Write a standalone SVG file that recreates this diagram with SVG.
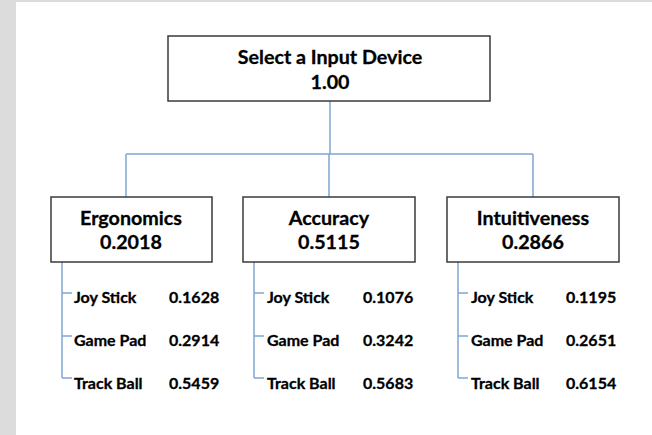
<svg xmlns="http://www.w3.org/2000/svg" width="652" height="435" viewBox="0 0 652 435">
  <style>
    .box { fill: #ffffff; stroke: #3a3a3a; stroke-width: 1.5; }
    .link { fill: none; stroke: #7fa6d4; stroke-width: 1.5; }
    .head { font-family: Lato, "Open Sans", sans-serif; font-weight: bold; font-size: 19.7px; fill: #000; stroke: #000; stroke-width: 0.3; text-anchor: middle; }
    .item { font-family: Lato, "Open Sans", sans-serif; font-weight: bold; font-size: 16px; fill: #000; stroke: #000; stroke-width: 0.3; }
  </style>
  <!-- page frame -->
  <rect x="0" y="0" width="652" height="435" fill="#dcdcdc"/>
  <rect x="16" y="2" width="636" height="433" fill="#ffffff"/>

  <g id="connectors">
    <path class="link" d="M330 101 V154 M126 154 H533 M126 154 V197 M329 154 V197 M533 154 V197"/>
    <path class="link" d="M62 262 V378 M62 293 H72 M62 336 H72 M62 378 H72"/>
    <path class="link" d="M254 262 V378 M254 293 H264 M254 336 H264 M254 378 H264"/>
    <path class="link" d="M458 262 V378 M458 293 H468 M458 336 H468 M458 378 H468"/>
  </g>

  <g id="root">
    <rect class="box" x="168" y="36" width="322" height="65"/>
    <text class="head" x="330" y="64">Select a Input Device</text>
    <text class="head" x="330" y="89">1.00</text>
  </g>

  <g id="ergonomics">
    <rect class="box" x="51" y="197" width="161" height="65"/>
    <text class="head" x="131" y="225">Ergonomics</text>
    <text class="head" x="131" y="249">0.2018</text>
    <text class="item" x="74" y="303">Joy Stick</text>
    <text class="item" x="169" y="303">0.1628</text>
    <text class="item" x="74" y="346">Game Pad</text>
    <text class="item" x="169" y="346">0.2914</text>
    <text class="item" x="74" y="389">Track Ball</text>
    <text class="item" x="169" y="389">0.5459</text>
  </g>

  <g id="accuracy">
    <rect class="box" x="243" y="197" width="172" height="65"/>
    <text class="head" x="329" y="225">Accuracy</text>
    <text class="head" x="329" y="249">0.5115</text>
    <text class="item" x="267" y="303">Joy Stick</text>
    <text class="item" x="363" y="303">0.1076</text>
    <text class="item" x="267" y="346">Game Pad</text>
    <text class="item" x="363" y="346">0.3242</text>
    <text class="item" x="267" y="389">Track Ball</text>
    <text class="item" x="363" y="389">0.5683</text>
  </g>

  <g id="intuitiveness">
    <rect class="box" x="447" y="197" width="172" height="65"/>
    <text class="head" x="533" y="225">Intuitiveness</text>
    <text class="head" x="533" y="249">0.2866</text>
    <text class="item" x="471" y="303">Joy Stick</text>
    <text class="item" x="566" y="303">0.1195</text>
    <text class="item" x="471" y="346">Game Pad</text>
    <text class="item" x="566" y="346">0.2651</text>
    <text class="item" x="471" y="389">Track Ball</text>
    <text class="item" x="566" y="389">0.6154</text>
  </g>
</svg>
